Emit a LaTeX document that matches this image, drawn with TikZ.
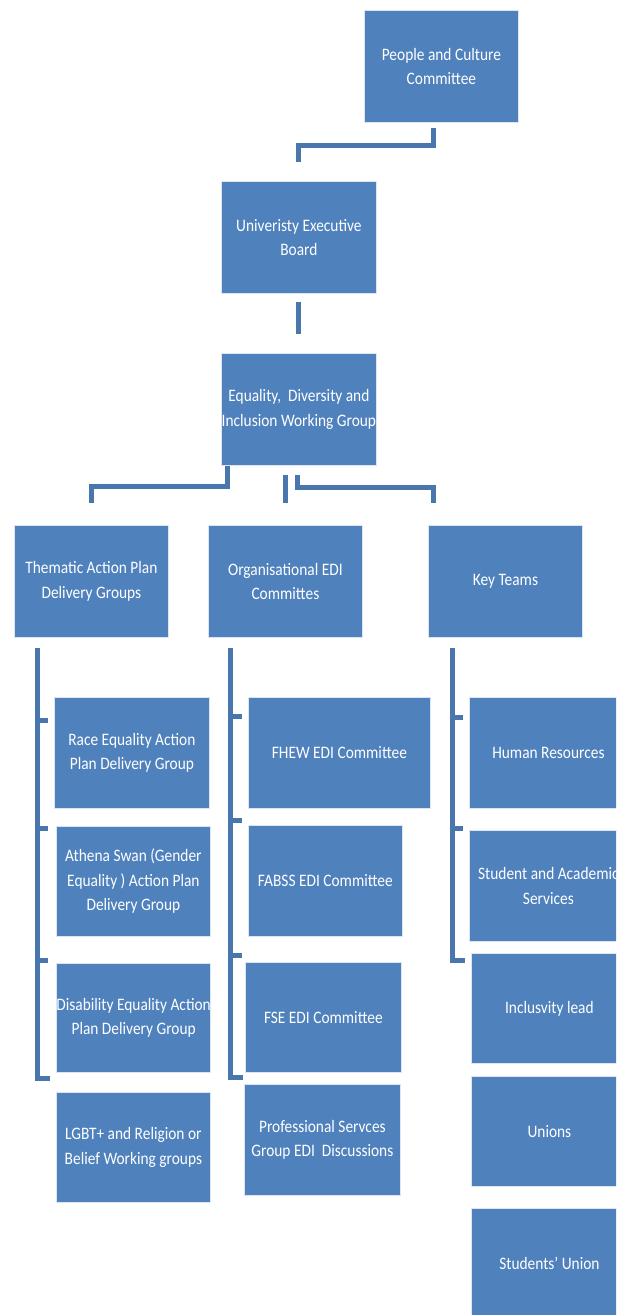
\documentclass[tikz,border=0pt]{standalone}
\usepackage{fontspec}
\setmainfont{Carlito}[FakeStretch=0.88]
\usetikzlibrary{calc}
\definecolor{boxblue}{HTML}{4F81BD}
\definecolor{lineblue}{HTML}{4A76AE}
\definecolor{edge}{HTML}{DCE6F2}
\begin{document}
\begin{tikzpicture}[x=1pt,y=1pt,
  box/.style={fill=boxblue, draw=edge, line width=0.8pt, text=white, align=center,
    anchor=north west, inner sep=0pt, font=\fontsize{17.5}{24.5}\selectfont},
  conn/.style={draw=lineblue, line width=5pt, line join=miter}]
\useasboundingbox (0,0) rectangle (616,-1315);
\clip (0,0) rectangle (616,-1315);
\fill[white] (0,0) rectangle (616,-1315);

% top levels
\node[box, minimum width=154, minimum height=112] (pcc) at (364,-10) {People and Culture\\Committee};
\node[box, minimum width=155, minimum height=112] (ueb) at (221,-181) {Univeristy Executive\\Board};
\node[box, minimum width=155, minimum height=112] (edi) at (221,-353) {Equality,\ \ Diversity and\\Inclusion Working Group};

% second level
\node[box, minimum width=154, minimum height=112] (tap) at (14,-525) {Thematic Action Plan\\Delivery Groups};
\node[box, minimum width=154, minimum height=112] (org) at (208,-525) {Organisational EDI\\Committes};
\node[box, minimum width=154, minimum height=112] (key) at (428,-525) {Key Teams};

% left column
\node[box, minimum width=155, minimum height=111] (race) at (54,-697) {Race Equality Action\\Plan Delivery Group};
\node[box, minimum width=154, minimum height=110] (athena) at (56,-826) {Athena Swan (Gender\\Equality ) Action Plan\\Delivery Group};
\node[box, minimum width=154, minimum height=109] (dis) at (56,-963) {Disability Equality Action\\Plan Delivery Group};
\node[box, minimum width=154, minimum height=110] (lgbt) at (56,-1092) {LGBT+ and Religion or\\Belief Working groups};

% middle column
\node[box, minimum width=182, minimum height=111] (fhew) at (248,-697) {FHEW EDI Committee};
\node[box, minimum width=154, minimum height=111] (fabss) at (248,-825) {FABSS EDI Committee};
\node[box, minimum width=156, minimum height=110] (fse) at (245,-962) {FSE EDI Committee};
\node[box, minimum width=156, minimum height=111] (prof) at (244,-1084) {Professional Servces\\Group EDI\ \ Discussions};

% right column
\node[box, minimum width=158, minimum height=111] (hr) at (469,-697) {Human Resources};
\node[box, minimum width=158, minimum height=111] (sas) at (469,-830) {Student and Academic\\Services};
\node[box, minimum width=156, minimum height=110] (incl) at (471,-953) {Inclusvity lead};
\node[box, minimum width=156, minimum height=110] (unions) at (471,-1076) {Unions};
\node[box, minimum width=156, minimum height=110] (su) at (471,-1208) {Students' Union};

% connector coordinates
\coordinate (a1) at (433,-128);
\coordinate (a2) at (298,-162);
\coordinate (b1) at (298,-302);
\coordinate (b2) at (298,-334);
\coordinate (l1) at (227,-466);
\coordinate (l2) at (91,-503);
\coordinate (m1) at (285,-475);
\coordinate (m2) at (285,-503);
\coordinate (r1) at (297,-475);
\coordinate (r2) at (433,-503);

\draw[conn] (a1) -- (433,-145) -| (a2);
\draw[conn] (b1) -- (b2);
\draw[conn] (l1) -- (227,-486) -| (l2);
\draw[conn] (m1) -- (m2);
\draw[conn] (r1) -- (297,-487) -| (r2);

% left spine
\coordinate (ls) at (37,-648);
\draw[conn] (ls) -- (37,-1078) -- (50,-1078);
\draw[conn] (37,-720) -- (48,-720);
\draw[conn] (37,-828) -- (48,-828);
\draw[conn] (37,-960) -- (48,-960);

% middle spine
\coordinate (ms) at (230,-648);
\draw[conn] (ms) -- (230,-1077) -- (243,-1077);
\draw[conn] (230,-716) -- (242,-716);
\draw[conn] (230,-820) -- (242,-820);
\draw[conn] (230,-955) -- (242,-955);

% right spine
\coordinate (rs) at (452,-648);
\draw[conn] (rs) -- (452,-960) -- (465,-960);
\draw[conn] (452,-717) -- (463,-717);
\draw[conn] (452,-828) -- (463,-828);
\end{tikzpicture}
\end{document}
